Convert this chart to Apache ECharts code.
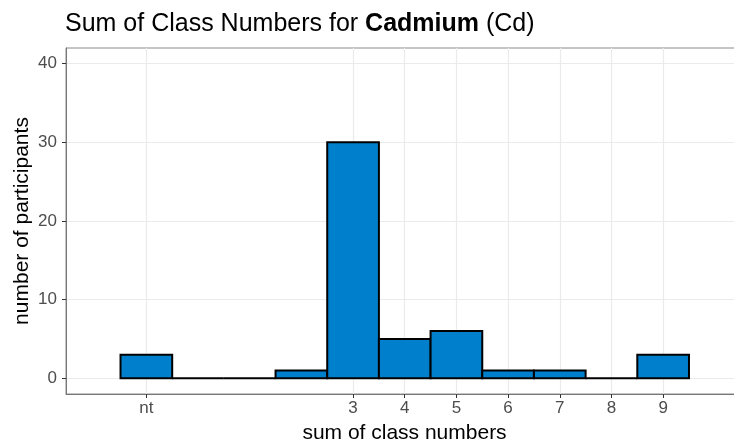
<!DOCTYPE html>
<html>
<head>
<meta charset="utf-8">
<script src="https://cdn.jsdelivr.net/npm/echarts@6/dist/echarts.min.js"></script>
<style>
  html, body { margin: 0; padding: 0; background: #fff; }
  #chart { width: 734px; height: 443px; }
</style>
</head>
<body>
<div id="chart"></div>
<script>
// bin centres (-1 stands for "nt") and participant counts
const binCenters = [-1, 0, 1, 2, 3, 4, 5, 6, 7, 8, 9]
const counts = [3, 0, 0, 1, 30, 5, 6, 1, 1, 0, 3]
const xTickValues = [-1, 3, 4, 5, 6, 7, 8, 9]
const xTickLabels = ['nt', '3', '4', '5', '6', '7', '8', '9']
const yTickValues = [0, 10, 20, 30, 40]

const FONT = 'Liberation Sans, Arial, Helvetica, sans-serif'
const BAR_FILL = '#0080CC'

const chart = echarts.init(document.getElementById('chart'))

const option = {
  animation: false,
  backgroundColor: '#fff',
  title: {
    text: 'Sum of Class Numbers for {b|Cadmium} (Cd)',
    left: 65,
    top: 12,
    padding: 0,
    textStyle: {
      fontFamily: FONT,
      fontSize: 25,
      fontWeight: 'normal',
      color: '#000',
      rich: {
        b: { fontFamily: FONT, fontSize: 25, fontWeight: 'bold', color: '#000' }
      }
    }
  },
  grid: {
    left: 66,
    right: -2,
    top: 48,
    bottom: 49,
    outerBoundsMode: 'none',
    containLabel: false,
    show: true,
    borderColor: '#8a8a8a',
    borderWidth: 1
  },
  xAxis: {
    type: 'value',
    min: -2.555,
    max: 10.41,
    name: 'sum of class numbers',
    nameLocation: 'middle',
    nameGap: 29,
    nameMoveOverlap: false,
    nameTextStyle: { fontFamily: FONT, fontSize: 21, color: '#000', padding: [0, 0, 0, 7] },
    axisLine: { show: true, onZero: false, lineStyle: { color: '#777', width: 1 } },
    axisTick: { show: true, length: 4, customValues: xTickValues, lineStyle: { color: '#333' } },
    axisLabel: {
      customValues: xTickValues,
      fontFamily: FONT,
      fontSize: 17,
      color: '#4d4d4d',
      margin: 6,
      formatter: v => xTickLabels[xTickValues.indexOf(v)] ?? ''
    },
    splitLine: { show: true, lineStyle: { color: '#ebebeb', width: 1.2 } }
  },
  yAxis: {
    type: 'value',
    min: -2,
    max: 42,
    name: 'number of participants',
    nameLocation: 'middle',
    nameGap: 33,
    nameMoveOverlap: false,
    nameTextStyle: { fontFamily: FONT, fontSize: 21, color: '#000' },
    axisLine: { show: true, onZero: false, lineStyle: { color: '#777', width: 1 } },
    axisTick: { show: true, length: 4, customValues: yTickValues, lineStyle: { color: '#333' } },
    axisLabel: { customValues: yTickValues, fontFamily: FONT, fontSize: 17, color: '#4d4d4d', margin: 9 },
    splitLine: { show: true, lineStyle: { color: '#ebebeb', width: 1.2 } }
  },
  series: [{
    type: 'custom',
    data: binCenters.map((x, i) => [x, counts[i]]),
    encode: { x: 0, y: 1 },
    renderItem: (params, api) => {
      const x = api.value(0)
      const y = api.value(1)
      const p0 = api.coord([x - 0.5, 0])
      const p1 = api.coord([x + 0.5, y])
      return {
        type: 'rect',
        shape: { x: p0[0], y: p1[1], width: p1[0] - p0[0], height: p0[1] - p1[1] },
        style: { fill: BAR_FILL, stroke: '#000', lineWidth: 2 }
      }
    }
  }]
}

chart.setOption(option)
</script>
</body>
</html>
